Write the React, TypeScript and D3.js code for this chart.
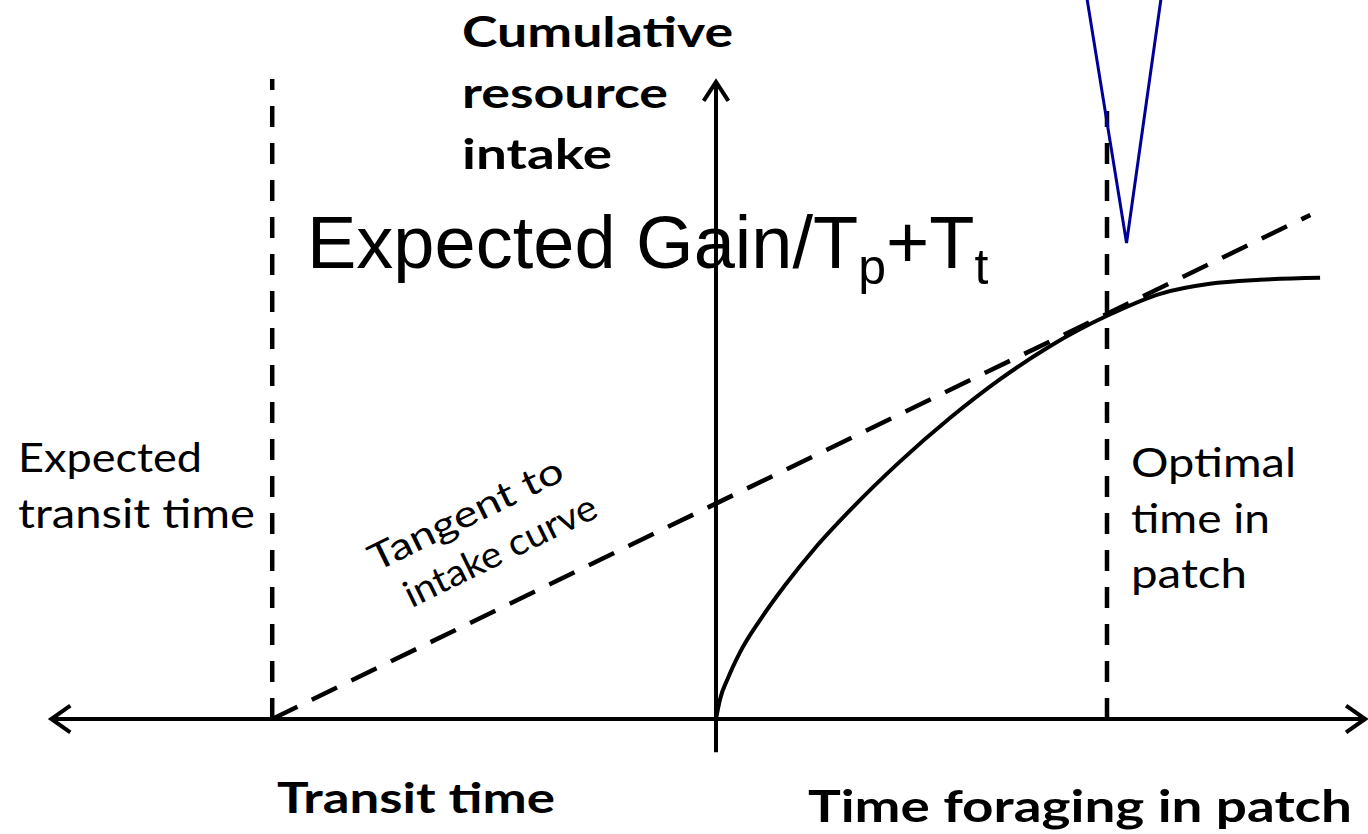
import React from "react";
import * as d3 from "d3";

// ---- data (model units) ----
const patchTime = [0, 0.1, 0.31, 0.61, 1.13, 1.77, 2.53, 3.43, 4.71, 5.99, 7.26, 8.54, 10, 11.36, 12.63, 13.91, 15.45];
const intake = [0, 0.48, 1.03, 1.66, 2.48, 3.35, 4.27, 5.22, 6.44, 7.53, 8.49, 9.32, 10.08, 10.63, 10.88, 10.98, 11.03];
const tangentTime = [-11.35, 15.2];
const tangentIntake = [0, 12.6];
const transitTime = -11.35;
const optimalTime = 10;
const transitGuideTop = 16;
const optimalGuideTop = 15.2;
const xAxisExtent = [-17, 16.6];
const yAxisExtent = [-0.83, 15.93];
const pointerTime = [9.49, 10.5, 11.38];
const pointerIntake = [18, 11.9, 18];

const yAxisTitle = ["Cumulative", "resource", "intake"];
const transitLabel = ["Expected", "transit time"];
const optimalLabel = ["Optimal", "time in", "patch"];
const tangentLabel = ["Tangent to", "intake curve"];

const W = 1368;
const H = 834;
const CAL = "Lato, 'Open Sans', sans-serif";

export default function App() {
  const x = d3.scaleLinear().domain([0, 10]).range([716, 1107]);
  const y = d3.scaleLinear().domain([0, 10]).range([719, 319]);

  const curve = d3
    .line<number>()
    .x((_, i) => x(patchTime[i]))
    .y((d) => y(d))
    .curve(d3.curveMonotoneX)(intake) as string;

  const tangent = d3
    .line<number>()
    .x((_, i) => x(tangentTime[i]))
    .y((d) => y(d))(tangentIntake) as string;

  const pointer = d3
    .line<number>()
    .x((_, i) => x(pointerTime[i]))
    .y((d) => y(d))(pointerIntake) as string;

  const x0 = x(xAxisExtent[0]);
  const x1 = x(xAxisExtent[1]);
  const yb = y(0);
  const ax = x(0);
  const yTop = y(yAxisExtent[1]);
  const yBot = y(yAxisExtent[0]);
  const ah = 19;

  const cumLens = [271, 206, 150];
  const transLens = [184, 237];
  const optLens = [165, 139, 116];

  return (
    <svg
      width={W}
      height={H}
      style={{ position: "absolute", left: 0, top: 0, background: "#fff" }}
    >
      <rect width={W} height={H} fill="#fff" />
      {/* dashed guides */}
      <line
        x1={x(transitTime)}
        x2={x(transitTime)}
        y1={y(0)}
        y2={y(transitGuideTop)}
        stroke="#000"
        strokeWidth={4.5}
        strokeDasharray="21,16"
      />
      <line
        x1={x(optimalTime)}
        x2={x(optimalTime)}
        y1={y(0)}
        y2={y(optimalGuideTop)}
        stroke="#000"
        strokeWidth={4.5}
        strokeDasharray="21,16"
      />
      {/* tangent */}
      <path d={tangent} fill="none" stroke="#000" strokeWidth={4.5} strokeDasharray="28,16" />
      {/* intake curve */}
      <path d={curve} fill="none" stroke="#000" strokeWidth={4} />
      {/* axes */}
      <line x1={x0} x2={x1} y1={yb} y2={yb} stroke="#000" strokeWidth={4} />
      <path
        d={`M${x0 + ah},${yb - ah * 0.7}L${x0},${yb}L${x0 + ah},${yb + ah * 0.7}`}
        fill="none"
        stroke="#000"
        strokeWidth={4}
      />
      <path
        d={`M${x1 - ah},${yb - ah * 0.7}L${x1},${yb}L${x1 - ah},${yb + ah * 0.7}`}
        fill="none"
        stroke="#000"
        strokeWidth={4}
      />
      <line x1={ax} x2={ax} y1={yBot} y2={yTop} stroke="#000" strokeWidth={4} />
      <path
        d={`M${ax - ah * 0.65},${yTop + ah}L${ax},${yTop}L${ax + ah * 0.65},${yTop + ah}`}
        fill="none"
        stroke="#000"
        strokeWidth={4}
      />
      {/* pointer */}
      <path d={pointer} fill="none" stroke="#000099" strokeWidth={3} />

      {/* labels */}
      {yAxisTitle.map((t, i) => (
        <text
          key={t}
          x={462}
          y={47 + i * 61}
          fontFamily={CAL}
          fontWeight={700}
          fontSize={42}
          textLength={cumLens[i]}
          lengthAdjust="spacingAndGlyphs"
        >
          {t}
        </text>
      ))}
      {transitLabel.map((t, i) => (
        <text
          key={t}
          x={18}
          y={472 + i * 56}
          fontFamily={CAL}
          fontSize={40}
          textLength={transLens[i]}
          lengthAdjust="spacingAndGlyphs"
        >
          {t}
        </text>
      ))}
      {optimalLabel.map((t, i) => (
        <text
          key={t}
          x={1131}
          y={477 + i * 55.5}
          fontFamily={CAL}
          fontSize={40}
          textLength={optLens[i]}
          lengthAdjust="spacingAndGlyphs"
        >
          {t}
        </text>
      ))}
      <text
        x={277}
        y={813}
        fontFamily={CAL}
        fontWeight={700}
        fontSize={42}
        textLength={278}
        lengthAdjust="spacingAndGlyphs"
      >
        Transit time
      </text>
      <text
        x={808}
        y={822}
        fontFamily={CAL}
        fontWeight={700}
        fontSize={44}
        textLength={544}
        lengthAdjust="spacingAndGlyphs"
      >
        Time foraging in patch
      </text>
      <g transform="translate(376,572) rotate(-26)">
        <text x={0} y={0} fontFamily={CAL} fontSize={37} textLength={212} lengthAdjust="spacingAndGlyphs">
          {tangentLabel[0]}
        </text>
        <text x={16} y={48} fontFamily={CAL} fontSize={37} textLength={210} lengthAdjust="spacingAndGlyphs">
          {tangentLabel[1]}
        </text>
      </g>
      <text x={307} y={268} fontFamily="'Liberation Sans', Arial, sans-serif" fontSize={74} fill="#000">
        Expected Gain/T
        <tspan fontSize={50} dy={16}>p</tspan>
        <tspan dy={-16}>+T</tspan>
        <tspan fontSize={50} dy={16}>t</tspan>
      </text>
    </svg>
  );
}
